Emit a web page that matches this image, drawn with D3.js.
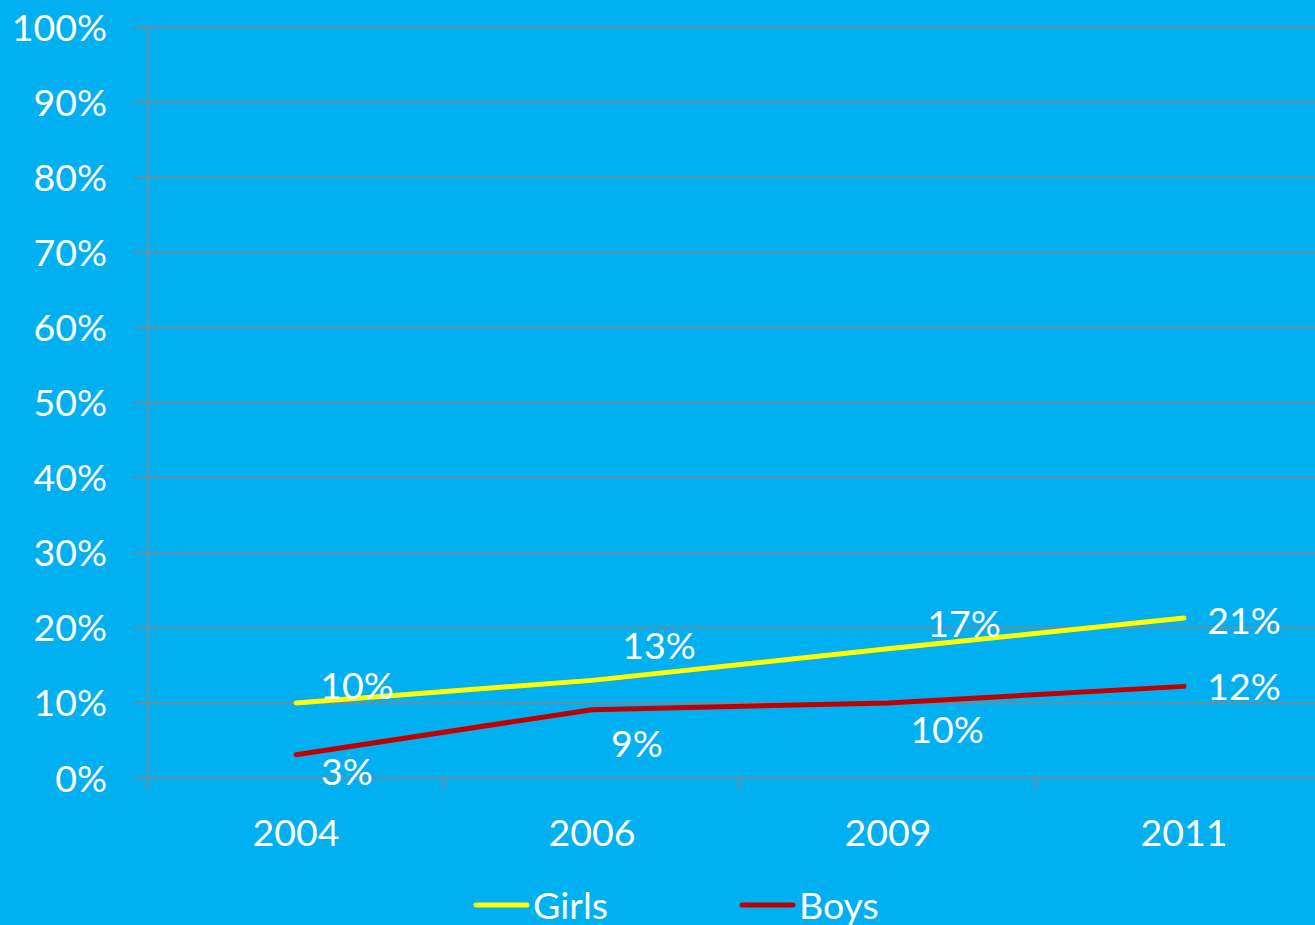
<!DOCTYPE html>
<html><head><meta charset="utf-8">
<script src="https://cdn.jsdelivr.net/npm/d3@7"></script>
<style>html,body{margin:0;padding:0;background:#00B0F0;overflow:hidden}svg{display:block}</style>
</head><body>
<script>
const categories = ["2004", "2006", "2009", "2011"];
const girls = [0.10, 0.13, 0.172, 0.213];
const boys = [0.031, 0.091, 0.10, 0.122];
const girlsLabels = ["10%", "13%", "17%", "21%"];
const boysLabels = ["3%", "9%", "10%", "12%"];
const yTicks = [0, 0.1, 0.2, 0.3, 0.4, 0.5, 0.6, 0.7, 0.8, 0.9, 1.0];
const seriesNames = ["Girls", "Boys"];

// label offsets (layout only)
const girlsOff = [[61,-17],[67,-35],[76,-25],[60,2]];
const boysOff = [[51,17],[45,34],[59,27],[60,0]];

const W = 1315, H = 925;
const font = "Lato, 'Open Sans', sans-serif";
const fs = "37.5px";
const svg = d3.select("body").append("svg").attr("width", W).attr("height", H);
svg.append("rect").attr("width", W).attr("height", H).attr("fill", "#00B0F0");

const plotLeft = 148, plotTop = 27, plotBottom = 778, bandW = 296;
const x = d3.scaleBand().domain(categories).range([plotLeft, plotLeft + bandW * categories.length]);
const y = d3.scaleLinear().domain([0, 1]).range([plotBottom, plotTop]);
const gridColor = "#868686";

// gridlines
svg.append("g").selectAll("line").data(yTicks).join("line")
  .attr("x1", plotLeft - 14).attr("x2", W)
  .attr("y1", d => y(d)).attr("y2", d => y(d))
  .attr("stroke", gridColor).attr("stroke-width", 1.5);

// y axis line
svg.append("line").attr("x1", plotLeft).attr("x2", plotLeft).attr("y1", plotTop).attr("y2", plotBottom + 12)
  .attr("stroke", gridColor).attr("stroke-width", 1.5);

// category tick marks
const bounds = categories.map(c => x(c) + bandW);
svg.append("g").selectAll("line").data(bounds).join("line")
  .attr("x1", d => d).attr("x2", d => d).attr("y1", plotBottom).attr("y2", plotBottom + 12)
  .attr("stroke", gridColor).attr("stroke-width", 1.5);

// y tick labels
svg.append("g").selectAll("text").data(yTicks).join("text")
  .attr("x", 107).attr("y", d => y(d)).attr("dy", "0.36em")
  .attr("text-anchor", "end").attr("fill", "#fff")
  .style("font-family", font).style("font-size", fs)
  .text(d => d3.format(".0%")(d));

// x labels
svg.append("g").selectAll("text").data(categories).join("text")
  .attr("x", d => x(d) + bandW / 2).attr("y", 832).attr("dy", "0.36em")
  .attr("text-anchor", "middle").attr("fill", "#fff")
  .style("font-family", font).style("font-size", fs)
  .text(d => d);

const cx = c => x(c) + bandW / 2;
const line = d3.line().x((d, i) => cx(categories[i])).y(d => y(d));

const series = [
  {name: seriesNames[0], vals: girls, labels: girlsLabels, off: girlsOff, color: "#FFFF00"},
  {name: seriesNames[1], vals: boys, labels: boysLabels, off: boysOff, color: "#C00000"}
];

series.forEach(s => {
  svg.append("path").datum(s.vals).attr("d", line)
    .attr("fill", "none").attr("stroke", s.color).attr("stroke-width", 5)
    .attr("stroke-linecap", "round").attr("stroke-linejoin", "round");
});
series.forEach(s => {
  svg.append("g").selectAll("text").data(s.vals).join("text")
    .attr("x", (d, i) => cx(categories[i]) + s.off[i][0])
    .attr("y", (d, i) => y(d) + s.off[i][1]).attr("dy", "0.36em")
    .attr("text-anchor", "middle").attr("fill", "#fff")
    .style("font-family", font).style("font-size", fs)
    .text((d, i) => s.labels[i]);
});

// legend
const legendX = [474, 740];
series.forEach((s, i) => {
  const g = svg.append("g").attr("transform", `translate(${legendX[i]},905)`);
  g.append("line").attr("x1", 2).attr("x2", 53).attr("y1", 0).attr("y2", 0)
    .attr("stroke", s.color).attr("stroke-width", 5).attr("stroke-linecap", "round");
  g.append("text").attr("x", 59).attr("y", 0).attr("dy", "0.36em")
    .attr("fill", "#fff").style("font-family", font).style("font-size", fs)
    .text(s.name);
});
</script>
</body></html>
